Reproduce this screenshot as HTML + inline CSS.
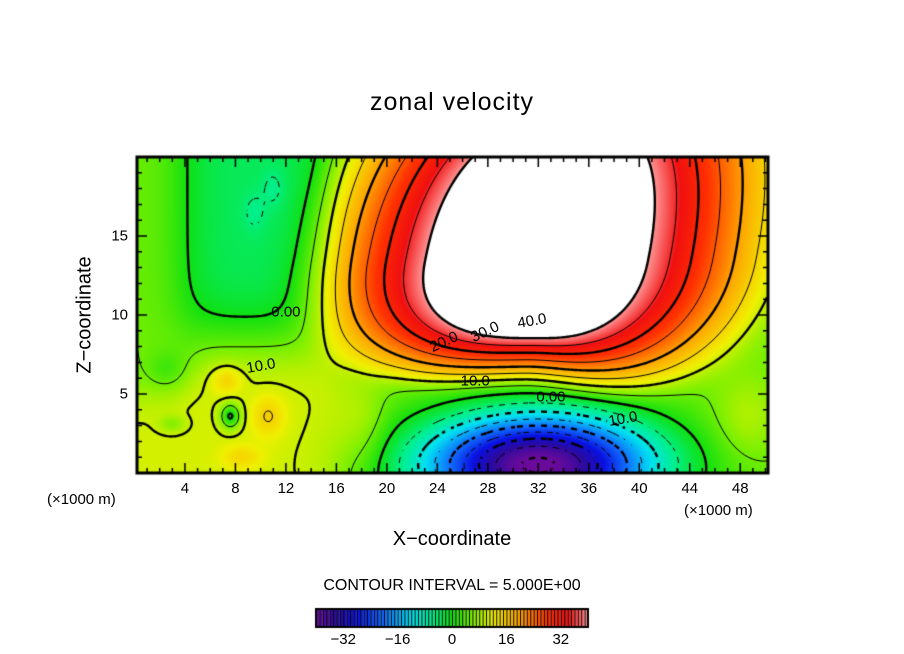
<!DOCTYPE html>
<html><head><meta charset="utf-8">
<style>
body{margin:0;background:#fff;}
#wrap{position:relative;width:904px;height:654px;overflow:hidden;background:#fff;font-family:"Liberation Sans",sans-serif;color:#000;}
.t{position:absolute;white-space:nowrap;}
canvas{position:absolute;left:0;top:0;}
</style></head><body>
<div id="wrap">
<canvas id="cv" width="904" height="654"></canvas>
<div class="t" style="left:0;width:904px;text-align:center;top:88px;font-size:25px;letter-spacing:1px;">zonal velocity</div>
<div class="t" style="left:85px;top:315px;font-size:20px;transform:translate(-50%,-50%) rotate(-90deg);">Z−coordinate</div>
<div class="t" style="left:0;width:904px;text-align:center;top:528px;font-size:20px;">X−coordinate</div>
<div class="t" style="left:47px;top:491px;font-size:15px;">(×1000 m)</div>
<div class="t" style="left:684px;top:502px;font-size:15px;">(×1000 m)</div>
<div class="t" style="left:0;width:904px;text-align:center;top:577px;font-size:16px;">CONTOUR INTERVAL = 5.000E+00</div>
<div id="labels"></div>
</div>
<script>
// ---- data ----
const xTicks=[4,8,12,16,20,24,28,32,36,40,44,48];
const zTicks=[5,10,15];
const cbTicks=[-32,-16,0,16,32];
const contourLevels=[-40,-35,-30,-25,-20,-15,-10,-5,0,5,10,15,20,25,30,35,40];
// jet: edge value, center x, center z, semi-axis left, right, bottom, top, exponent, tilt
const jetAmp=[40];
const jetShape=[32.8,13.5,8.2,6.2,4.5,8,2.5,0.25];
// jet falloff (r-units per 10): vertical, left, right
const jetWidths=[0.21,0.38,0.55];
// gaussian features
const blobX=[32,7.3,10.6,8.5,7.6,3,9.5,11,18,48.5,2.5];
const blobZ=[0.5,5.9,3.6,1.0,3.6,3.1,16.5,18,3,3.5,6.5];
const blobAmp=[-46,5,5,4,-11,-4,-2.5,-2.5,4,4,-3];
const blobSx=[9,1.2,1.3,1.6,0.8,1,0.9,0.9,2,2.5,1.5];
const blobSz=[3.2,0.9,1.3,0.8,0.8,0.5,1.2,1.2,3,2.5,1.2];
const baseVals=[5,10.5];
// upper-left low region: x0, x1, z0, amplitude
const lowBox=[3.8,15.3,9.3,-8.5];
const contourLabels=[["0.00",12,10.2,0],["10.0",10,6.8,-10],["20.0",24.5,8.3,-25],["30.0",27.8,8.9,-25],["40.0",31.5,9.6,-10],["10.0",27,5.8,0],["0.00",33,4.8,0],["10.0",38.7,3.4,-10]];
// ---- axes ----
const PX0=137,PX1=768,PY0=157,PY1=473,XMIN=0.2,XMAX=50.2,ZMIN=0,ZMAX=20;
const sx=x=>PX0+(x-XMIN)/(XMAX-XMIN)*(PX1-PX0);
const sz=z=>PY1-(z-ZMIN)/(ZMAX-ZMIN)*(PY1-PY0);
const sig=t=>1/(1+Math.exp(-t));
function fieldv(x,z){
  const s=jetShape;
  const cx=s[0]+s[7]*(z-s[1]);
  const nx=(x-cx)/(x<cx?s[2]:s[3]),nz=(z-s[1])/(z<s[1]?s[4]:s[5]);
  const r=Math.pow(Math.pow(Math.abs(nx),s[6])+Math.pow(Math.abs(nz),s[6]),1/s[6]);
  const a=(nz*nz)/(nx*nx+nz*nz+1e-9);
  const wx=nx<0?jetWidths[1]:jetWidths[2];
  const w=a*jetWidths[0]+(1-a)*wx;
  const lin=jetAmp[0]+10*(1-r)/w;
  const k=2.5;
  let v=lin>30?lin:k*Math.log(1+Math.exp(lin/k));
  const zt=5+2.5*sig((x-4.5)/0.7);
  v+=baseVals[0]+(baseVals[1]-baseVals[0])*sig((zt-z)/0.8)*sig((16.5-x)/0.8);
  v+=lowBox[3]*sig((x-lowBox[0])/1.1)*sig((lowBox[1]-x)/1.1)*sig((z-lowBox[2])/1.1);
  for(let i=0;i<blobX.length;i++){const dx=(x-blobX[i])/blobSx[i],dz=(z-blobZ[i])/blobSz[i];v+=blobAmp[i]*Math.exp(-(dx*dx+dz*dz));}
  return v;
}
const stops=[[-40,[106,10,154]],[-34,[42,10,160]],[-28,[10,16,224]],[-20,[16,112,255]],[-12,[0,224,240]],[-6,[0,240,144]],[0,[16,224,16]],[6,[128,240,0]],[12,[240,240,0]],[20,[255,160,0]],[28,[255,48,0]],[34,[240,16,16]],[40,[255,150,150]]];
function col(v){
  if(v>40)return[255,255,255];
  if(v<=stops[0][0])return stops[0][1];
  for(let i=1;i<stops.length;i++){if(v<=stops[i][0]){const a=stops[i-1],b=stops[i],t=(v-a[0])/(b[0]-a[0]);return a[1].map((c,k)=>Math.round(c+(b[1][k]-c)*t));}}
  return stops[stops.length-1][1];
}
const cv=document.getElementById('cv'),ctx=cv.getContext('2d');
const W=PX1-PX0,H=PY1-PY0;
const img=ctx.createImageData(W,H);
for(let j=0;j<H;j++)for(let i=0;i<W;i++){
  const x=XMIN+(i+0.5)/W*(XMAX-XMIN),z=ZMAX-(j+0.5)/H*(ZMAX-ZMIN);
  const c=col(fieldv(x,z)),p=(j*W+i)*4;img.data[p]=c[0];img.data[p+1]=c[1];img.data[p+2]=c[2];img.data[p+3]=255;}
ctx.putImageData(img,PX0,PY0);
// contours (marching squares)
const st=2,nx=Math.floor(W/st),nz=Math.floor(H/st),g=[];
for(let j=0;j<=nz;j++){g[j]=[];for(let i=0;i<=nx;i++){g[j][i]=fieldv(XMIN+i*st/W*(XMAX-XMIN),ZMAX-j*st/H*(ZMAX-ZMIN));}}
ctx.save();ctx.beginPath();ctx.rect(PX0,PY0,W,H);ctx.clip();
contourLevels.forEach(L=>{
  ctx.beginPath();
  ctx.lineWidth=(L%10===0)?2.4:1;ctx.strokeStyle='#000';
  for(let j=0;j<nz;j++)for(let i=0;i<nx;i++){
    const a=g[j][i],b=g[j][i+1],c=g[j+1][i+1],d=g[j+1][i];
    const pts=[];const X=PX0+i*st,Y=PY0+j*st;
    if((a>L)!==(b>L))pts.push([X+st*(L-a)/(b-a),Y]);
    if((b>L)!==(c>L))pts.push([X+st,Y+st*(L-b)/(c-b)]);
    if((d>L)!==(c>L))pts.push([X+st*(L-d)/(c-d),Y+st]);
    if((a>L)!==(d>L))pts.push([X,Y+st*(L-a)/(d-a)]);
    if(L<0&&(Math.floor(X/6)+Math.floor(Y/6))%2)continue;
    for(let k=0;k+1<pts.length;k+=2){ctx.moveTo(pts[k][0],pts[k][1]);ctx.lineTo(pts[k+1][0],pts[k+1][1]);}
  }
  ctx.stroke();
});
ctx.restore();
// frame and ticks
ctx.strokeStyle='#000';ctx.lineWidth=3;ctx.strokeRect(PX0,PY0,W,H);
ctx.lineWidth=1.5;ctx.beginPath();
for(let x=1;x<=50;x++){const X=sx(x),len=(x%4===0)?10:5;ctx.moveTo(X,PY1);ctx.lineTo(X,PY1-len);ctx.moveTo(X,PY0);ctx.lineTo(X,PY0+len);}
for(let z=1;z<20;z++){const Y=sz(z),len=(z%5===0)?10:5;ctx.moveTo(PX0,Y);ctx.lineTo(PX0+len,Y);ctx.moveTo(PX1,Y);ctx.lineTo(PX1-len,Y);}
ctx.stroke();
// colorbar
const CB0=316,CB1=588,CBY=609,CBH=18,nb=80;
for(let k=0;k<nb;k++){const v=-40+(k+0.5)*80/nb,c=col(Math.min(v,40));ctx.fillStyle=`rgb(${c})`;const x0=CB0+k*(CB1-CB0)/nb;ctx.fillRect(x0,CBY,(CB1-CB0)/nb,CBH);ctx.fillStyle='#000';ctx.fillRect(x0,CBY,1,CBH);}
ctx.lineWidth=2;ctx.strokeRect(CB0,CBY,CB1-CB0,CBH);
// labels
const lab=document.getElementById('labels');
function addT(txt,x,y,name,style){const d=document.createElement('div');d.className='t';d.textContent=txt;d.style.cssText=`left:${x}px;top:${y}px;`+style;


lab.appendChild(d);}
xTicks.forEach(x=>addT(String(x),sx(x),480,'x-tick-label','font-size:15px;transform:translateX(-50%);'));
zTicks.forEach(z=>addT(String(z),128,sz(z),'y-tick-label','font-size:15px;transform:translate(-100%,-50%);'));
cbTicks.forEach(v=>addT(v<0?'−'+(-v):String(v),CB0+(v+40)/80*(CB1-CB0),631,'colorbar-tick-label','font-size:15px;transform:translateX(-50%);'));
contourLabels.forEach(l=>addT(l[0],sx(l[1]),sz(l[2]),'contour-label',`font-size:15px;transform:translate(-50%,-50%) rotate(${l[3]}deg);`));
</script>
</body></html>
